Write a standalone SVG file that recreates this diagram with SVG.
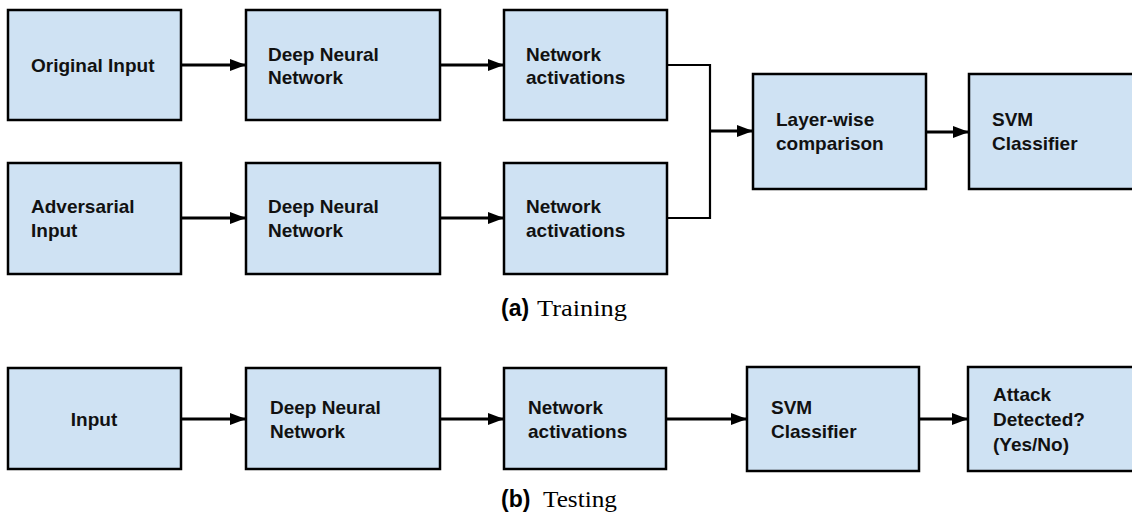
<svg xmlns="http://www.w3.org/2000/svg" width="1132" height="515" viewBox="0 0 1132 515">
<style>
.box{fill:#cfe2f3;stroke:#000;stroke-width:2.5}
.t{font-family:"Liberation Sans",Arial,sans-serif;font-weight:bold;font-size:19px;fill:#111}
.ln{fill:none;stroke:#000;stroke-width:3}
.el{fill:none;stroke:#000;stroke-width:2.2}
.capb{font-family:"Liberation Sans",Arial,sans-serif;font-weight:bold;font-size:23px;fill:#000}
.caps{font-family:"Liberation Serif","Times New Roman",serif;font-size:23px;fill:#000}
</style>
<defs>
<marker id="ah" markerUnits="userSpaceOnUse" markerWidth="17" markerHeight="12" refX="16" refY="6" orient="auto">
<path d="M0,0 L16,6 L0,12 z" fill="#000"/>
</marker>
</defs>
<rect width="1132" height="515" fill="#fff"/>

<g id="connectors">
<line class="ln" x1="181" y1="65" x2="246" y2="65" marker-end="url(#ah)"/>
<line class="ln" x1="440" y1="65" x2="504" y2="65" marker-end="url(#ah)"/>
<line class="ln" x1="181" y1="218" x2="246" y2="218" marker-end="url(#ah)"/>
<line class="ln" x1="440" y1="218" x2="504" y2="218" marker-end="url(#ah)"/>
<polyline class="el" points="667,65 710,65 710,218 667,218"/>
<line class="ln" x1="710" y1="131" x2="753" y2="131" marker-end="url(#ah)"/>
<line class="ln" x1="926" y1="132" x2="969" y2="132" marker-end="url(#ah)"/>
<line class="ln" x1="181" y1="419" x2="246" y2="419" marker-end="url(#ah)"/>
<line class="ln" x1="440" y1="419" x2="504" y2="419" marker-end="url(#ah)"/>
<line class="ln" x1="666" y1="419" x2="747" y2="419" marker-end="url(#ah)"/>
<line class="ln" x1="919" y1="419" x2="968" y2="419" marker-end="url(#ah)"/>
</g>

<g id="original-input"><rect class="box" x="8" y="10" width="173" height="110"/><text class="t" x="31" y="72">Original Input</text></g>
<g id="dnn-top"><rect class="box" x="246" y="10" width="194" height="110"/><text class="t" x="268" y="61">Deep Neural</text><text class="t" x="268" y="84">Network</text></g>
<g id="activations-top"><rect class="box" x="504" y="10" width="163" height="110"/><text class="t" x="526" y="61">Network</text><text class="t" x="526" y="84">activations</text></g>

<g id="adversarial-input"><rect class="box" x="8" y="163" width="173" height="111"/><text class="t" x="31" y="213">Adversarial</text><text class="t" x="31" y="237">Input</text></g>
<g id="dnn-bottom"><rect class="box" x="246" y="163" width="194" height="111"/><text class="t" x="268" y="213">Deep Neural</text><text class="t" x="268" y="237">Network</text></g>
<g id="activations-bottom"><rect class="box" x="504" y="163" width="163" height="111"/><text class="t" x="526" y="213">Network</text><text class="t" x="526" y="237">activations</text></g>

<g id="layerwise"><rect class="box" x="753" y="74" width="173" height="115"/><text class="t" x="776" y="126">Layer-wise</text><text class="t" x="776" y="150">comparison</text></g>
<g id="svm-train"><rect class="box" x="969" y="74" width="180" height="115"/><text class="t" x="992" y="126">SVM</text><text class="t" x="992" y="150">Classifier</text></g>

<g id="caption-a"><text class="capb" x="501" y="316">(a)</text><text class="caps" x="537" y="316" textLength="90" lengthAdjust="spacingAndGlyphs">Training</text></g>

<g id="input-test"><rect class="box" x="8" y="368" width="173" height="101"/><text class="t" x="94" y="426" text-anchor="middle">Input</text></g>
<g id="dnn-test"><rect class="box" x="246" y="368" width="194" height="101"/><text class="t" x="270" y="414">Deep Neural</text><text class="t" x="270" y="438">Network</text></g>
<g id="activations-test"><rect class="box" x="504" y="368" width="162" height="101"/><text class="t" x="528" y="414">Network</text><text class="t" x="528" y="438">activations</text></g>
<g id="svm-test"><rect class="box" x="747" y="367" width="172" height="104"/><text class="t" x="771" y="414">SVM</text><text class="t" x="771" y="438">Classifier</text></g>
<g id="attack"><rect class="box" x="968" y="367" width="180" height="104"/><text class="t" x="993" y="401">Attack</text><text class="t" x="993" y="426">Detected?</text><text class="t" x="993" y="451">(Yes/No)</text></g>

<g id="caption-b"><text class="capb" x="501" y="507">(b)</text><text class="caps" x="543" y="507" textLength="74" lengthAdjust="spacingAndGlyphs">Testing</text></g>
</svg>
